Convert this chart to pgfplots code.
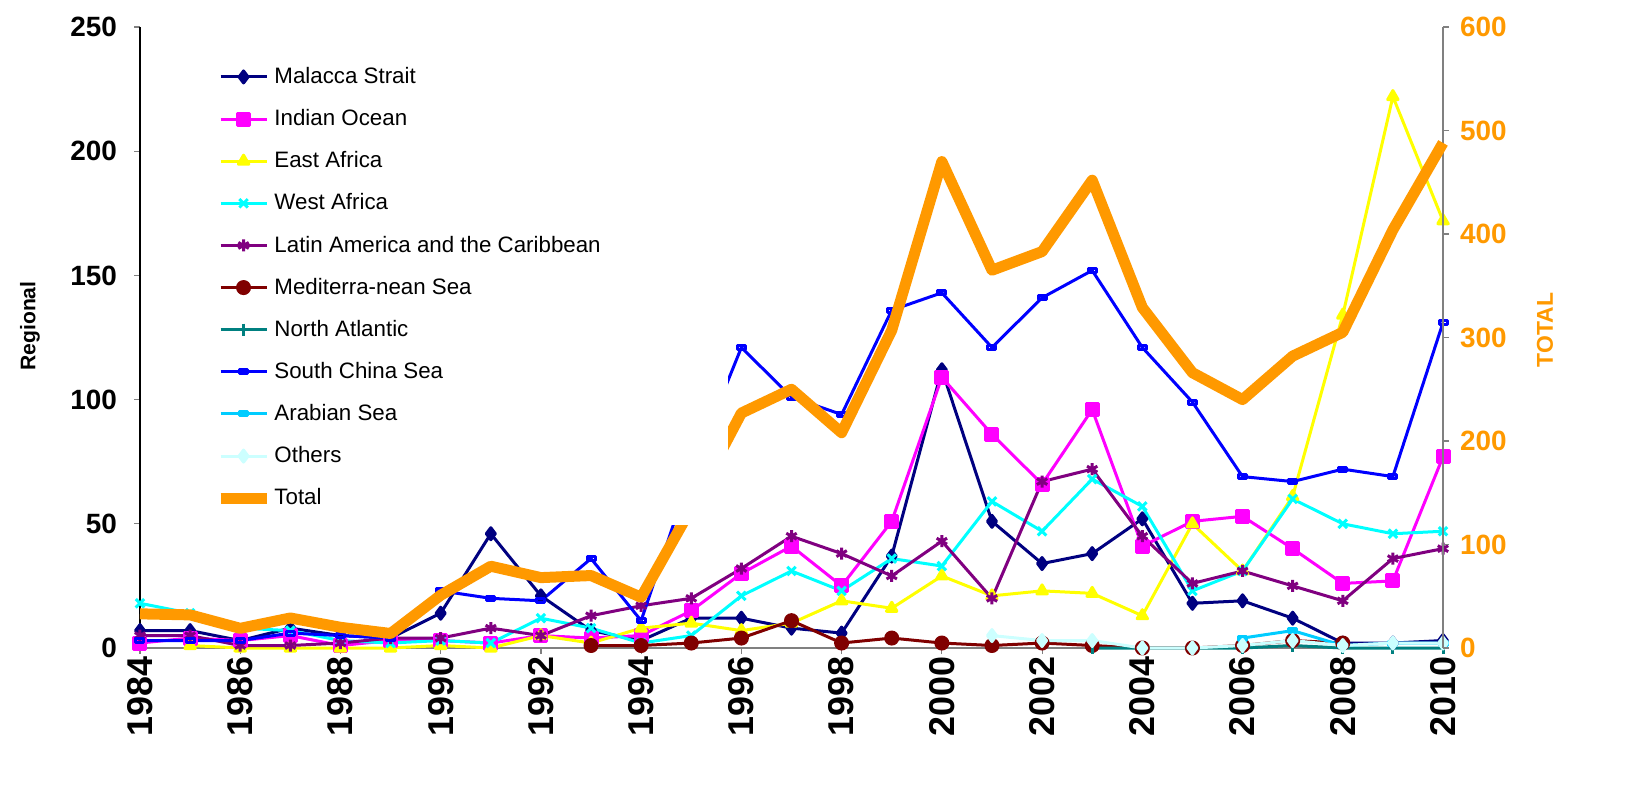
\documentclass[border=0pt]{standalone}
\usepackage{pgfplots}
\pgfplotsset{compat=1.18}
\usepackage{fontspec}
\setmainfont{Liberation Sans}

\definecolor{cMal}{RGB}{0,0,128}
\definecolor{cInd}{RGB}{255,0,255}
\definecolor{cEaf}{RGB}{255,255,0}
\definecolor{cWaf}{RGB}{0,255,255}
\definecolor{cLat}{RGB}{128,0,128}
\definecolor{cMed}{RGB}{128,0,0}
\definecolor{cNat}{RGB}{0,128,128}
\definecolor{cScs}{RGB}{0,0,255}
\definecolor{cAra}{RGB}{0,204,255}
\definecolor{cOth}{RGB}{204,255,255}
\definecolor{cTot}{RGB}{255,153,0}
\definecolor{tickgrey}{RGB}{128,128,128}

\pgfplotsset{
  common/.style={
    scale only axis, width=651.5bp, height=310.5bp,
    xmin=1984, xmax=2010, clip=false,
    /pgf/number format/1000 sep={},
    /pgf/number format/assume math mode=true,
    tick style={tickgrey, line width=0.6bp},
    major tick length=3bp,
  },
  reg/.style={line width=1.5bp, mark size=3bp, line join=round},
}

\begin{document}
\begin{tikzpicture}
\useasboundingbox (-70bp,-69bp) rectangle (749bp,324bp);
% regional series, left axis
\begin{axis}[common,
  ymin=0, ymax=250, ytick={0,50,...,250},
  axis x line*=bottom, axis y line*=left,
  y axis line style={black, line width=0.6bp},
  x axis line style={tickgrey, line width=0.6bp},
  xtick={1984,1986,...,2010}, minor x tick num=1,
  minor tick length=3bp,
  yticklabel style={font=\fontsize{14}{16}\selectfont\bfseries, xshift=-5bp},
  xticklabel style={font=\fontsize{18}{20}\selectfont\bfseries, rotate=90, anchor=east, inner sep=1bp},
  ylabel={Regional},
  ylabel style={font=\fontsize{10.6}{13}\selectfont\bfseries, at={(axis description cs:-0.0845,0.5185)}, anchor=center},
  tick align=outside,
]
\addplot[reg, cMal, mark=diamond*] coordinates {
 (1984,7)(1985,7)(1986,3)(1987,8)(1988,5)(1989,4)(1990,14)(1991,46)(1992,21)(1993,7)
 (1994,3)(1995,12)(1996,12)(1997,8)(1998,6)(1999,37)(2000,112)(2001,51)(2002,34)(2003,38)
 (2004,52)(2005,18)(2006,19)(2007,12)(2008,2)(2009,2)(2010,3)};
\addplot[reg, cInd, mark=square*] coordinates {
 (1984,2)(1985,4)(1986,3)(1987,5)(1988,1)(1989,3)(1990,3)(1991,2)(1992,5)(1993,4)
 (1994,5)(1995,15)(1996,30)(1997,41)(1998,25)(1999,51)(2000,109)(2001,86)(2002,66)(2003,96)
 (2004,41)(2005,51)(2006,53)(2007,40)(2008,26)(2009,27)(2010,77)};
\addplot[reg, cEaf, mark=triangle*] coordinates {
 (1985,1)(1986,0)(1987,0)(1988,0)(1989,0)(1990,1)(1991,0)(1992,5)(1993,2)
 (1994,8)(1995,10)(1996,7)(1997,10)(1998,19)(1999,16)(2000,29)(2001,21)(2002,23)(2003,22)
 (2004,13)(2005,50)(2006,31)(2007,61)(2008,134)(2009,222)(2010,172)};
\addplot[reg, cWaf, mark=x] coordinates {
 (1984,18)(1985,14)(1986,8)(1987,7)(1988,3)(1989,2)(1990,3)(1991,2)(1992,12)(1993,8)
 (1994,2)(1995,5)(1996,21)(1997,31)(1998,23)(1999,36)(2000,33)(2001,59)(2002,47)(2003,68)
 (2004,57)(2005,23)(2006,31)(2007,60)(2008,50)(2009,46)(2010,47)};
\addplot[reg, cLat, mark=asterisk] coordinates {
 (1984,5)(1985,5)(1986,1)(1987,1)(1988,2)(1989,4)(1990,4)(1991,8)(1992,5)(1993,13)
 (1994,17)(1995,20)(1996,32)(1997,45)(1998,38)(1999,29)(2000,43)(2001,20)(2002,67)(2003,72)
 (2004,45)(2005,26)(2006,31)(2007,25)(2008,19)(2009,36)(2010,40)};
\addplot[reg, cMed, mark=*] coordinates {
 (1993,1)(1994,1)(1995,2)(1996,4)(1997,11)(1998,2)(1999,4)(2000,2)(2001,1)(2002,2)(2003,1)
 (2004,0)(2005,0)(2006,1)(2007,3)(2008,2)};
\addplot[reg, cNat, mark=|] coordinates {
 (2003,0)(2004,0)(2005,0)(2006,0)(2007,1)(2008,0)(2009,0)(2010,0)};
\addplot[reg, cScs, mark=square, mark size=2bp, mark options={yscale=0.5, fill=white}] coordinates {
 (1984,3)(1985,3)(1986,3)(1987,6)(1988,5)(1989,4)(1990,23)(1991,20)(1992,19)(1993,36)
 (1994,11)(1995,71)(1996,121)(1997,101)(1998,94)(1999,136)(2000,143)(2001,121)(2002,141)(2003,152)
 (2004,121)(2005,99)(2006,69)(2007,67)(2008,72)(2009,69)(2010,131)};
\addplot[reg, cAra, mark=square*, mark size=2bp, mark options={yscale=0.5}] coordinates {
 (2006,4)(2007,7)(2008,1)(2009,2)(2010,2)};
\addplot[reg, cOth, mark=diamond*] coordinates {
 (2001,5)(2002,3)(2003,3)(2004,0)(2005,0)(2006,1)(2007,3)(2008,1)(2009,2)(2010,2)};
\end{axis}

% total, right axis
\begin{axis}[common,
  ymin=0, ymax=600, ytick={0,100,...,600},
  axis x line=none, axis y line*=right,
  y axis line style={tickgrey, line width=0.6bp},
  tick align=outside,
  yticklabel style={font=\fontsize{14}{16}\selectfont\bfseries, text=cTot, xshift=2bp},
  ylabel={TOTAL},
  ylabel style={font=\fontsize{11.5}{13}\selectfont\bfseries, text=cTot, at={(axis description cs:1.0783,0.512)}, anchor=center},
  legend style={draw=none, fill=none, inner xsep=0pt, at={(rel axis cs:0.0573,0.9485)}, anchor=north west,
    font=\fontsize{11.2}{13}\selectfont, row sep=7.5bp, cells={anchor=west},
    nodes={inner xsep=1.2bp}},
  legend image code/.code={\draw[mark repeat=2, mark phase=2] plot coordinates {(0bp,0bp) (11.5bp,0bp) (23bp,0bp)};},
]
\addlegendimage{reg, cMal, mark=diamond*}
\addlegendentry{Malacca Strait}
\addlegendimage{reg, cInd, mark=square*}
\addlegendentry{Indian Ocean}
\addlegendimage{reg, cEaf, mark=triangle*}
\addlegendentry{East Africa}
\addlegendimage{reg, cWaf, mark=x}
\addlegendentry{West Africa}
\addlegendimage{reg, cLat, mark=asterisk}
\addlegendentry{Latin America and the Caribbean}
\addlegendimage{reg, cMed, mark=*}
\addlegendentry{Mediterra-nean Sea}
\addlegendimage{reg, cNat, mark=|}
\addlegendentry{North Atlantic}
\addlegendimage{reg, cScs, mark=square, mark size=2bp, mark options={yscale=0.5, fill=white}}
\addlegendentry{South China Sea}
\addlegendimage{reg, cAra, mark=square*, mark size=2bp, mark options={yscale=0.5}}
\addlegendentry{Arabian Sea}
\addlegendimage{reg, cOth, mark=diamond*}
\addlegendentry{Others}
\addplot[cTot, line width=5.5bp, line join=round, no marks] coordinates {
 (1984,33)(1985,32)(1986,19)(1987,29)(1988,20)(1989,14)(1990,51)(1991,79)(1992,68)(1993,70)
 (1994,49)(1995,135)(1996,227)(1997,250)(1998,208)(1999,307)(2000,470)(2001,365)(2002,383)(2003,452)
 (2004,329)(2005,266)(2006,240)(2007,282)(2008,305)(2009,404)(2010,488)};
\addlegendentry{Total}
\fill[white] (rel axis cs:0.0576,0.198) rectangle (rel axis cs:0.4513,0.963);
\end{axis}
\end{tikzpicture}
\end{document}
